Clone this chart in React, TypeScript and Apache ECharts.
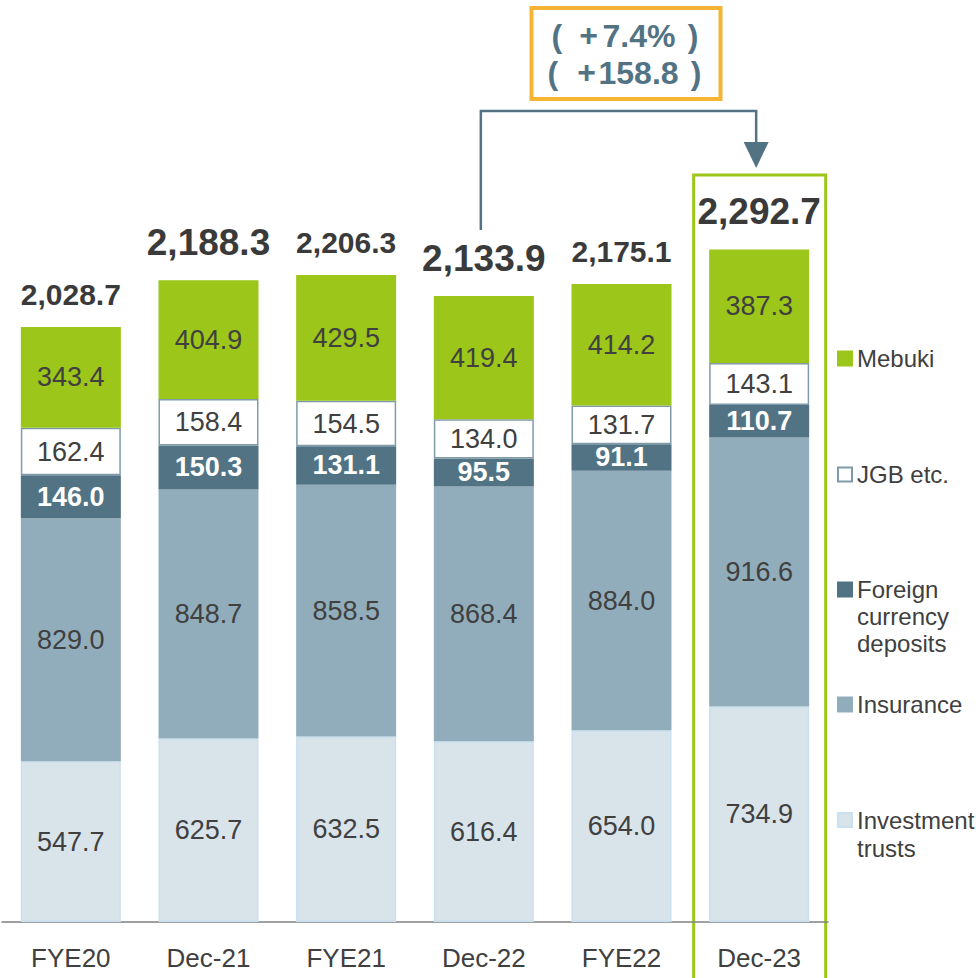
import React, { useEffect, useRef } from "react";
import * as echarts from "echarts";

const categories = ["FYE20", "Dec-21", "FYE21", "Dec-22", "FYE22", "Dec-23"];
const investmentTrusts = [547.7, 625.7, 632.5, 616.4, 654.0, 734.9];
const insurance = [829.0, 848.7, 858.5, 868.4, 884.0, 916.6];
const foreignDeposits = [146.0, 150.3, 131.1, 95.5, 91.1, 110.7];
const jgb = [162.4, 158.4, 154.5, 134.0, 131.7, 143.1];
const mebuki = [343.4, 404.9, 429.5, 419.4, 414.2, 387.3];
const totals = [2028.7, 2188.3, 2206.3, 2133.9, 2175.1, 2292.7];
const totalLarge = [false, true, false, true, false, true];
const changeRate = "7.4%";
const changeAmount = "158.8";

const FONT = "'Liberation Sans', Arial, Helvetica, sans-serif";
const TEXT = "#404040";
const GREEN = "#9CC61A";
const SLATE = "#527384";

const fmt1 = (v: number) => v.toFixed(1);
const fmtTotal = (v: number) =>
  v.toLocaleString("en-US", { minimumFractionDigits: 1, maximumFractionDigits: 1 });

// Multi-line legend texts: leading blank lines keep the first line level with the icon.
const legendNames: Record<string, string> = {
  Mebuki: "Mebuki",
  "JGB etc.": "JGB etc.",
  "Foreign currency deposits": "\n\nForeign\ncurrency\ndeposits",
  Insurance: "Insurance",
  "Investment trusts": "\nInvestment\ntrusts",
};

function legendItem(name: string, top: number, lh: number) {
  return {
    data: [name],
    left: 837,
    top,
    padding: 0,
    orient: "vertical",
    icon: "rect",
    itemWidth: 14,
    itemHeight: 14,
    selectedMode: false,
    formatter: (n: string) => legendNames[n] || n,
    textStyle: {
      fontSize: 24,
      color: TEXT,
      fontFamily: FONT,
      lineHeight: lh,
    },
  };
}

function barSeries(name: string, data: number[], color: string, border: string, labelColor: string, bold: boolean) {
  return {
    name,
    type: "bar",
    stack: "total",
    barWidth: 100,
    data,
    itemStyle: { color, borderColor: border, borderWidth: 1.5 },
    label: {
      show: true,
      position: "inside",
      formatter: (p: any) => fmt1(p.value),
      fontSize: 27,
      fontFamily: FONT,
      fontWeight: bold ? "bold" : "normal",
      color: labelColor,
    },
    emphasis: { disabled: true },
  };
}

export default function App() {
  const ref = useRef<HTMLDivElement>(null);
  useEffect(() => {
    document.body.style.margin = "0";
    if (!ref.current) return;
    const chart = echarts.init(ref.current, undefined, { renderer: "svg" });
    chart.setOption({
      animation: false,
      grid: { left: 2, right: 148, top: 42, bottom: 56 },
      legend: [
        legendItem("Mebuki", 345, 27),
        legendItem("JGB etc.", 461, 27),
        legendItem("Foreign currency deposits", 522, 27),
        legendItem("Insurance", 691, 27),
        legendItem("Investment trusts", 778, 28),
      ],
      xAxis: {
        type: "category",
        data: categories,
        axisLine: { lineStyle: { color: "#808080", width: 1.5 } },
        axisTick: { show: false },
        axisLabel: { fontSize: 26, color: TEXT, fontFamily: FONT, margin: 23 },
      },
      yAxis: {
        type: "value",
        min: 0,
        max: 3000,
        show: false,
        splitLine: { show: false },
      },
      series: [
        barSeries("Investment trusts", investmentTrusts, "#D9E3EA", "#C8E0EF", TEXT, false),
        barSeries("Insurance", insurance, "#91ADBB", "#91ADBB", TEXT, false),
        barSeries("Foreign currency deposits", foreignDeposits, SLATE, SLATE, "#ffffff", true),
        barSeries("JGB etc.", jgb, "#ffffff", "#7F9BAA", TEXT, false),
        barSeries("Mebuki", mebuki, GREEN, GREEN, TEXT, false),
        {
          name: "Total",
          type: "scatter",
          symbolSize: 0,
          silent: true,
          itemStyle: { opacity: 1 },
          data: totals.map((v, i) => ({
            value: v,
            label: {
              fontSize: totalLarge[i] ? 37 : 30,
              distance: totalLarge[i] ? 19 : 17,
            },
          })),
          label: {
            show: true,
            position: "top",
            fontWeight: "bold",
            color: "#3A3A3A",
            opacity: 1,
            fontFamily: FONT,
            formatter: (p: any) => fmtTotal(p.value),
          },
        },
      ],
    });

    const xFrom = chart.convertToPixel({ xAxisIndex: 0 }, categories[3]) as number;
    const xTo = chart.convertToPixel({ xAxisIndex: 0 }, categories[5]) as number;
    const mid = (xFrom + xTo) / 2;
    const ts = { fontSize: 32, fontWeight: "bold", fontFamily: FONT, fill: SLATE, verticalAlign: "middle" };

    chart.setOption({
      graphic: [
        {
          type: "rect",
          shape: { x: xTo - 65.5, y: 175, width: 132, height: 840 },
          style: { fill: "none", stroke: GREEN, lineWidth: 3 },
          silent: true,
        },
        {
          type: "polyline",
          shape: { points: [[xFrom - 3, 230], [xFrom - 3, 111], [xTo - 3, 111], [xTo - 3, 143]] },
          style: { fill: "none", stroke: SLATE, lineWidth: 2.5 },
          silent: true,
        },
        {
          type: "polygon",
          shape: { points: [[xTo - 15.5, 142], [xTo + 9.5, 142], [xTo - 3, 168]] },
          style: { fill: SLATE },
          silent: true,
        },
        {
          type: "rect",
          shape: { x: mid - 90, y: 8, width: 189, height: 91 },
          style: { fill: "#ffffff", stroke: "#F6B434", lineWidth: 4 },
          silent: true,
        },
        { type: "text", style: { ...ts, text: "(", x: mid - 70, y: 36, align: "left" } },
        { type: "text", style: { ...ts, text: "+", x: mid - 33, y: 35, align: "center" } },
        { type: "text", style: { ...ts, text: changeRate, x: mid - 19, y: 36, align: "left" } },
        { type: "text", style: { ...ts, text: ")", x: mid + 77, y: 36, align: "right" } },
        { type: "text", style: { ...ts, text: "(", x: mid - 74, y: 73, align: "left" } },
        { type: "text", style: { ...ts, text: "+", x: mid - 35, y: 72, align: "center" } },
        { type: "text", style: { ...ts, text: changeAmount, x: mid - 23, y: 73, align: "left" } },
        { type: "text", style: { ...ts, text: ")", x: mid + 80, y: 73, align: "right" } },
      ],
    });

    return () => chart.dispose();
  }, []);
  return <div ref={ref} style={{ width: 976, height: 978 }} />;
}
